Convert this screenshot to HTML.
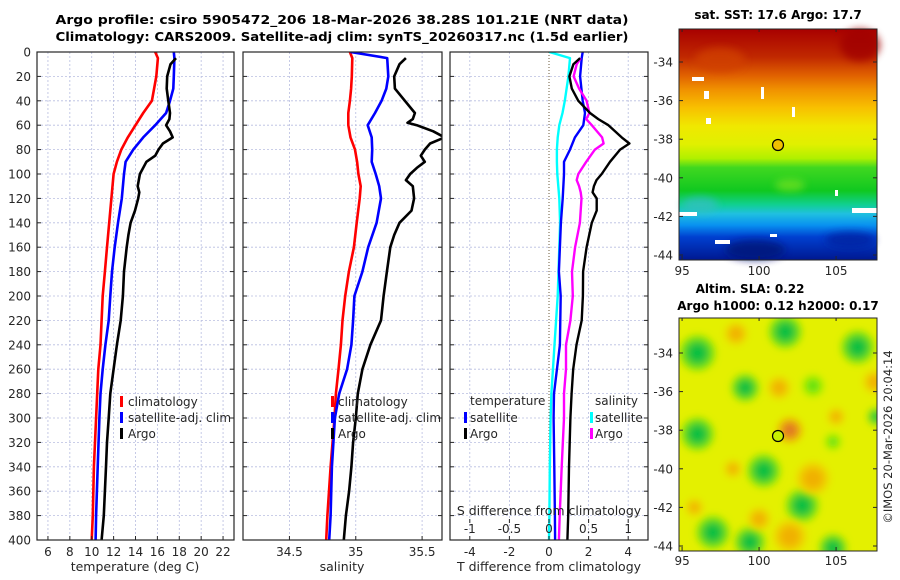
<!DOCTYPE html>
<html><head><meta charset="utf-8"><style>
html,body{margin:0;padding:0;background:#fff;}
svg{display:block;font-family:"DejaVu Sans","Liberation Sans",sans-serif;}
</style></head><body>
<svg id="fig" width="900" height="580" viewBox="0 0 900 580">
<defs>
<clipPath id="c1"><rect x="37" y="52" width="197" height="488"/></clipPath>
<clipPath id="c2"><rect x="243" y="52" width="199" height="488"/></clipPath>
<clipPath id="c3"><rect x="450" y="52" width="198" height="488"/></clipPath>
<clipPath id="cm2"><rect x="679" y="318" width="198" height="233"/></clipPath>
<linearGradient id="sstg" x1="0" y1="0" x2="0" y2="1">
<stop offset="0" stop-color="#a80000"/><stop offset="0.12" stop-color="#c02800"/>
<stop offset="0.2" stop-color="#e06000"/><stop offset="0.26" stop-color="#f09000"/>
<stop offset="0.34" stop-color="#f8c000"/><stop offset="0.42" stop-color="#f0e800"/>
<stop offset="0.5" stop-color="#e0f000"/><stop offset="0.56" stop-color="#b0f000"/>
<stop offset="0.6" stop-color="#40d820"/><stop offset="0.7" stop-color="#10c820"/>
<stop offset="0.76" stop-color="#10d090"/><stop offset="0.8" stop-color="#20c0e0"/>
<stop offset="0.85" stop-color="#0890f0"/><stop offset="0.9" stop-color="#0040d0"/>
<stop offset="1" stop-color="#001890"/>
</linearGradient>
<filter id="blur" x="-50%" y="-50%" width="200%" height="200%"><feGaussianBlur stdDeviation="4"/></filter>
</defs>

<text x="342" y="24" font-size="12.5" font-weight="bold" text-anchor="middle" textLength="573" lengthAdjust="spacingAndGlyphs">Argo profile: csiro 5905472_206 18-Mar-2026 38.28S 101.21E (NRT data)</text>
<text x="342" y="41" font-size="12.5" font-weight="bold" text-anchor="middle" textLength="573" lengthAdjust="spacingAndGlyphs">Climatology: CARS2009. Satellite-adj clim: synTS_20260317.nc (1.5d earlier)</text>

<g id="grids"></g>
<g id="lines"></g>
<g id="axes"></g>

<!-- legends -->
<g font-size="12" fill="#262626">
<rect x="120" y="396" width="3" height="11" fill="#ff0000"/><text x="128" y="406">climatology</text>
<rect x="120" y="412" width="3" height="11" fill="#0000ff"/><text x="128" y="422">satellite-adj. clim</text>
<rect x="120" y="428" width="3" height="11" fill="#000"/><text x="128" y="438">Argo</text>
</g>
<g font-size="12" fill="#262626">
<rect x="331" y="396" width="3" height="11" fill="#ff0000"/><text x="338" y="406">climatology</text>
<rect x="331" y="412" width="3" height="11" fill="#0000ff"/><text x="338" y="422">satellite-adj. clim</text>
<rect x="331" y="428" width="3" height="11" fill="#000"/><text x="338" y="438">Argo</text>
</g>
<g font-size="12" fill="#262626">
<text x="470" y="405">temperature</text><text x="595" y="405">salinity</text>
<rect x="464" y="412" width="3" height="11" fill="#0000ff"/><text x="470" y="422">satellite</text>
<rect x="464" y="428" width="3" height="11" fill="#000"/><text x="470" y="438">Argo</text>
<rect x="590" y="412" width="3" height="11" fill="#00ffff"/><text x="595" y="422">satellite</text>
<rect x="590" y="428" width="3" height="11" fill="#ff00ff"/><text x="595" y="438">Argo</text>
</g>

<text x="135" y="571" font-size="12.5" fill="#262626" text-anchor="middle">temperature (deg C)</text>
<text x="342" y="571" font-size="12.5" fill="#262626" text-anchor="middle">salinity</text>
<text x="549" y="571" font-size="12.5" fill="#262626" text-anchor="middle">T difference from climatology</text>
<text x="549" y="515" font-size="12.5" fill="#262626" text-anchor="middle">S difference from climatology</text>

<!-- SST map -->
<g>
<text x="778" y="19" font-size="12" font-weight="bold" text-anchor="middle">sat. SST: 17.6 Argo: 17.7</text>
<rect x="679" y="29" width="198" height="231" fill="url(#sstg)"/>
<g filter="url(#blur)" opacity="0.8">
<ellipse cx="755" cy="250" rx="30" ry="10" fill="#001878"/><ellipse cx="850" cy="240" rx="25" ry="8" fill="#0020a0"/>
<ellipse cx="700" cy="205" rx="18" ry="8" fill="#30c0c0"/><ellipse cx="790" cy="185" rx="15" ry="6" fill="#70e020"/>
<ellipse cx="860" cy="45" rx="20" ry="16" fill="#a00000"/><ellipse cx="720" cy="60" rx="25" ry="12" fill="#d04000"/>
</g>
<g fill="#fff">
<rect x="692" y="77" width="12" height="4"/><rect x="704" y="91" width="5" height="8"/><rect x="761" y="87" width="3" height="12"/>
<rect x="706" y="118" width="5" height="6"/><rect x="792" y="107" width="3" height="10"/><rect x="715" y="240" width="15" height="4"/>
<rect x="852" y="208" width="25" height="5"/><rect x="679" y="212" width="18" height="4"/><rect x="770" y="234" width="7" height="3"/>
<rect x="835" y="190" width="3" height="6"/>
</g>
<rect x="679" y="29" width="198" height="231" fill="none" stroke="#262626" stroke-width="1"/>
<circle cx="778" cy="145" r="5.5" fill="#f0c000" stroke="#000" stroke-width="1.2"/>
</g>

<!-- SLA map -->
<g>
<text x="750" y="293" font-size="12" font-weight="bold" text-anchor="middle">Altim. SLA: 0.22</text>
<text x="778" y="310" font-size="12" font-weight="bold" text-anchor="middle">Argo h1000: 0.12 h2000: 0.17</text>
<rect x="679" y="318" width="198" height="233" fill="#e4f000"/>
<g id="slablobs" clip-path="url(#cm2)"></g>
<rect x="679" y="318" width="198" height="233" fill="none" stroke="#262626" stroke-width="1"/>
<circle cx="778" cy="436" r="5.5" fill="#c8f000" stroke="#000" stroke-width="1.2"/>
</g>
<g id="mapaxes"></g>
<text transform="translate(892,437) rotate(-90)" font-size="11.5" fill="#262626" text-anchor="middle">©IMOS 20-Mar-2026 20:04:14</text>
</svg>
<script>
// ---- data ----
const tDepth = [0,5,20,30,40,50,60,70,80,90,100,120,140,160,180,200,220,240,260,280,300,340,380,400];
const tClim  = [15.8,16.05,15.9,15.7,15.5,14.7,14.0,13.3,12.7,12.3,12.0,11.8,11.6,11.4,11.2,11.0,10.9,10.8,10.6,10.5,10.4,10.2,10.1,10.0];
const tSat   = [17.5,17.55,17.5,17.45,17.15,16.8,15.8,14.7,13.8,13.1,12.95,12.75,12.4,12.1,11.85,11.7,11.55,11.25,11.0,10.8,10.7,10.55,10.4,10.35];
const argoDepth = [5,10,20,30,40,50,55,60,65,70,75,80,85,90,100,110,115,120,130,140,150,160,180,200,220,240,260,280,300,320,340,360,380,400];
const tArgo  = [17.7,17.2,16.9,16.85,17.0,17.15,17.1,16.8,17.15,17.4,16.5,16.1,15.8,15.0,14.4,14.2,14.35,14.25,13.95,13.55,13.35,13.2,12.95,12.85,12.65,12.3,12.0,11.7,11.55,11.4,11.3,11.2,11.1,10.9];
const sDepth = [0,5,20,30,40,50,60,70,80,90,100,110,120,140,160,180,200,220,240,260,280,300,340,380,400];
const sClim  = [34.956,34.974,34.97,34.965,34.956,34.944,34.944,34.96,34.994,35.01,35.02,35.037,35.03,35.007,34.986,34.948,34.92,34.9,34.888,34.87,34.85,34.84,34.81,34.786,34.777];
const sSat   = [34.96,35.237,35.245,35.23,35.195,35.145,35.09,35.12,35.124,35.12,35.15,35.177,35.19,35.157,35.094,35.05,34.99,34.98,34.967,34.935,34.875,34.843,34.82,34.81,34.8];
const sArgoDepth = [5,10,20,30,40,50,55,58,60,65,70,75,80,85,90,95,100,105,110,120,130,140,150,160,180,200,220,240,260,280,300,320,340,360,380,400];
const sArgo  = [35.378,35.33,35.29,35.295,35.37,35.446,35.43,35.39,35.46,35.584,35.67,35.56,35.52,35.49,35.52,35.46,35.41,35.378,35.43,35.44,35.42,35.33,35.29,35.26,35.235,35.21,35.19,35.11,35.05,35.015,35.0,34.98,34.967,34.95,34.926,34.91];
const dDepth = [0,5,20,40,50,60,70,80,90,100,120,140,180,200,240,280,300,340,380,400];
const dtSat  = [1.7,1.65,1.57,1.7,1.82,1.73,1.31,1.06,0.76,0.76,0.69,0.6,0.5,0.59,0.55,0.25,0.23,0.27,0.3,0.31];
const dsSat  = [0.004,0.265,0.245,0.2,0.17,0.13,0.11,0.1,0.1,0.105,0.13,0.14,0.12,0.11,0.07,0.03,0.02,0.01,0.005,0.0];
const dArgoDepth = [5,10,20,30,40,50,55,60,70,75,80,90,100,105,110,115,120,130,140,160,180,200,220,240,260,280,300,340,380,400];
const dtArgo = [1.57,1.23,1.03,1.15,1.48,2.07,2.49,3.0,3.67,4.06,3.59,3.08,2.66,2.4,2.27,2.2,2.41,2.41,2.16,1.9,1.72,1.71,1.65,1.39,1.22,1.14,1.08,1.01,0.97,0.93];
const dsArgo = [0.4,0.35,0.31,0.38,0.475,0.51,0.47,0.54,0.67,0.69,0.58,0.47,0.37,0.35,0.38,0.4,0.41,0.4,0.39,0.33,0.29,0.3,0.27,0.215,0.215,0.19,0.19,0.16,0.135,0.125];
const depthTicks = [0,20,40,60,80,100,120,140,160,180,200,220,240,260,280,300,320,340,360,380,400];
const tTicks = [6,8,10,12,14,16,18,20,22];
const sTicks = [34.5,35,35.5];
const dtTicks = [-4,-2,0,2,4];
const dsTicks = [-1,-0.5,0,0.5,1];
const latTicks = [-34,-36,-38,-40,-42,-44];
const lonTicks = [95,100,105];
// SLA anomaly blobs: lon, lat, size(deg), kind
const blobLon  = [96,99.1,101.7,106.4,96,100.3,102.8,97,99.4,104.8,107.6,103.5,104.8,102,101.3,103.5,98.3,102,100,105,107.5,98.5,95.8];
const blobLat  = [-34,-35.8,-32.9,-33.7,-38.2,-40.1,-41.9,-43.3,-43.8,-44.1,-37.3,-35.7,-38.6,-38,-35.8,-40.5,-40,-43.5,-42.6,-37.3,-35.5,-33,-42];
const blobSize = [0.65,0.5,0.6,0.6,0.6,0.6,0.6,0.6,0.55,0.5,0.3,0.4,0.3,0.45,0.4,0.6,0.3,0.6,0.4,0.3,0.4,0.4,0.3];
const blobKind = ['g','g','g','g','g','g','g','g','g','g','g','lg','lg','o2','o','o','o','o','o','o','o','o','o'];

// ---- axes ----
const NS='http://www.w3.org/2000/svg';
const Y0=52, Y1=540;
const yD = d => Y0 + d*(Y1-Y0)/400;
const xT = t => 37 + (t-5)*197/18;
const xS = s => 243 + (s-34.15)*199/1.5;
const xDT = v => 450 + (v+5)*198/10;
const xDS = v => 450 + (v+1.25)*198/2.5;
const mx = lon => 679 + (lon-94.8)*15.4;
const my1 = lat => 62 + (-lat-34)*19.3;
const my2 = lat => 353 + (-lat-34)*19.3;
function el(tag, attrs, parent){const e=document.createElementNS(NS,tag);for(const k in attrs)e.setAttribute(k,attrs[k]);parent.appendChild(e);return e;}
const G=document.getElementById('grids'), L=document.getElementById('lines'), A=document.getElementById('axes');
const panels=[{x0:37,x1:234,ticks:tTicks,fx:xT,name:'temperature'},{x0:243,x1:442,ticks:sTicks,fx:xS,name:'salinity'},{x0:450,x1:648,ticks:dtTicks,fx:xDT,name:'difference'}];
panels.forEach(p=>{
  depthTicks.forEach(d=>{ if(d>0&&d<400){const g=el('line',{x1:p.x0,x2:p.x1,y1:yD(d),y2:yD(d),stroke:'#b8bde0','stroke-width':0.8,'stroke-dasharray':'2,2'},G);
    
    }
    el('line',{x1:p.x0,x2:p.x0+4,y1:yD(d),y2:yD(d),stroke:'#262626'},A);
    el('line',{x1:p.x1-4,x2:p.x1,y1:yD(d),y2:yD(d),stroke:'#262626'},A);
  });
  p.ticks.forEach(v=>{const x=p.fx(v);
    const g=el('line',{x1:x,x2:x,y1:Y0,y2:Y1,stroke:(p.name==='difference'&&v===0)?'#6b5a3a':'#b8bde0','stroke-width':(p.name==='difference'&&v===0)?1:0.8,'stroke-dasharray':(p.name==='difference'&&v===0)?'1,2':'2,2'},G);
    
    
    el('line',{x1:x,x2:x,y1:Y1-4,y2:Y1,stroke:'#262626'},A);
    const t=el('text',{x:x,y:556,'font-size':12,fill:'#262626','text-anchor':'middle'},A);
    t.textContent=String(v);
    
    
  });
  const r=el('rect',{x:p.x0,y:Y0,width:p.x1-p.x0,height:Y1-Y0,fill:'none',stroke:'#262626','stroke-width':1.2},A);
  
  
});
depthTicks.forEach(d=>{const t=el('text',{x:31,y:yD(d)+4.5,'font-size':12,fill:'#262626','text-anchor':'end'},A);
  t.textContent=String(d);
  
  });
dsTicks.forEach(v=>{const x=xDS(v);
  el('line',{x1:x,x2:x,y1:519,y2:523,stroke:'#262626'},A);
  const t=el('text',{x:x,y:533,'font-size':12,fill:'#262626','text-anchor':'middle'},A);
  t.textContent=String(v);
  
  });

function drawLine(depths, vals, fx, color, w, clip, name){
  const pts=depths.map((d,i)=>fx(vals[i]).toFixed(1)+','+yD(d).toFixed(1)).join(' ');
  const p=el('polyline',{points:pts,fill:'none',stroke:color,'stroke-width':w,'stroke-linejoin':'round','clip-path':'url(#'+clip+')'},L);
  
  
}
drawLine(tDepth,tClim,xT,'#ff0000',2.6,'c1','temperature-climatology-line');
drawLine(tDepth,tSat,xT,'#0000ff',2.6,'c1','temperature-satellite-line');
drawLine(argoDepth,tArgo,xT,'#000',2.6,'c1','temperature-argo-line');
drawLine(sDepth,sClim,xS,'#ff0000',2.6,'c2','salinity-climatology-line');
drawLine(sDepth,sSat,xS,'#0000ff',2.6,'c2','salinity-satellite-line');
drawLine(sArgoDepth,sArgo,xS,'#000',2.6,'c2','salinity-argo-line');
drawLine(dDepth,dsSat,xDS,'#00ffff',2.4,'c3','s-diff-satellite-line');
drawLine(dDepth,dtSat,xDT,'#0000ff',2.4,'c3','t-diff-satellite-line');
drawLine(dArgoDepth,dsArgo,xDS,'#ff00ff',2.4,'c3','s-diff-argo-line');
drawLine(dArgoDepth,dtArgo,xDT,'#000',2.4,'c3','t-diff-argo-line');

// ---- maps ----
const SB=document.getElementById('slablobs');
const kindCol={g:['#10c040','#70e010'],lg:['#60e010','#a8f000'],o:['#f0b000','#f0d000'],o2:['#e07820','#f0b000']};
blobLon.forEach((lon,i)=>{const c=kindCol[blobKind[i]];const r=blobSize[i]*19;
  const g=el('g',{filter:'url(#blur)'},SB);
  
  
  el('circle',{cx:mx(lon),cy:my2(blobLat[i]),r:r*1.4,fill:c[1]},g);
  el('circle',{cx:mx(lon),cy:my2(blobLat[i]),r:r*0.9,fill:c[0]},g);
});
const MA=document.getElementById('mapaxes');
[[my1,29,260,275],[my2,318,551,565]].forEach(([fy,top,bot,ly])=>{
  latTicks.forEach(lat=>{const y=fy(lat);
    el('line',{x1:679,x2:683,y1:y,y2:y,stroke:'#262626'},MA);
    el('line',{x1:873,x2:877,y1:y,y2:y,stroke:'#262626'},MA);
    const t=el('text',{x:673,y:y+4.5,'font-size':12,fill:'#262626','text-anchor':'end'},MA);
    t.textContent=String(lat);
    
    });
  lonTicks.forEach(lon=>{const x=mx(lon);
    el('line',{x1:x,x2:x,y1:bot-4,y2:bot,stroke:'#262626'},MA);
    el('line',{x1:x,x2:x,y1:top,y2:top+3,stroke:'#262626'},MA);
    const t=el('text',{x:x,y:ly,'font-size':12,fill:'#262626','text-anchor':'middle'},MA);
    t.textContent=String(lon);
    
    });
});
</script>
</body></html>
